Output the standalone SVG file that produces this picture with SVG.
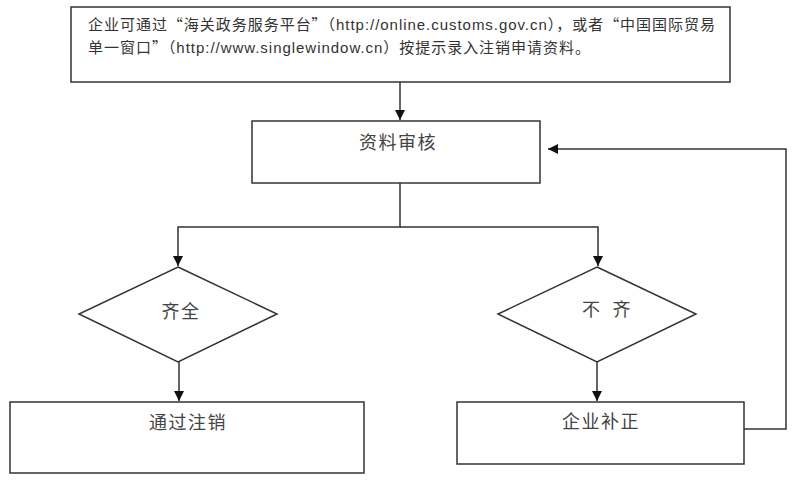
<svg xmlns="http://www.w3.org/2000/svg" width="798" height="487" viewBox="0 0 798 487">
<style>
.box{fill:#fff;stroke:#333;stroke-width:1.5}
.ln{fill:none;stroke:#333;stroke-width:1.5}
.t{font-family:"Liberation Sans","Noto Sans CJK SC",sans-serif;font-size:15px;fill:#333}
.q{font-family:"Noto Sans CJK SC",sans-serif}
.lb{font-family:"Noto Sans CJK SC",sans-serif;font-size:18px;fill:#444;text-anchor:middle;letter-spacing:1.5px}
</style>
<defs>
<marker id="ar" viewBox="0 0 10 10" refX="10" refY="5" markerWidth="10" markerHeight="10" markerUnits="userSpaceOnUse" orient="auto">
<path d="M0,0 L10,5 L0,10 z" fill="#111"/>
</marker>
</defs>
<rect width="798" height="487" fill="#fff"/>
<g id="connectors">
<path class="ln" d="M400,82 V120" marker-end="url(#ar)"/>
<path class="ln" d="M400,183 V227 H178 V266" marker-end="url(#ar)"/>
<path class="ln" d="M400,227 H598 V266" marker-end="url(#ar)"/>
<path class="ln" d="M179,362 V401" marker-end="url(#ar)"/>
<path class="ln" d="M597,362 V401" marker-end="url(#ar)"/>
<path class="ln" d="M744,429 H786 V149 H548" marker-end="url(#ar)"/>
</g>
<g id="start">
<rect class="box" x="71" y="7" width="659" height="75"/>
<text class="t" x="88" y="30" textLength="627" lengthAdjust="spacing">企业可通过<tspan class="q">“</tspan>海关政务服务平台<tspan class="q">”</tspan>（http://online.customs.gov.cn），或者<tspan class="q">“</tspan>中国国际贸易</text>
<text class="t" x="88" y="53" textLength="502" lengthAdjust="spacing">单一窗口<tspan class="q">”</tspan>（http://www.singlewindow.cn）按提示录入注销申请资料。</text>
</g>
<g id="review">
<rect class="box" x="252" y="121" width="288" height="62"/>
<text class="lb" x="398" y="149">资料审核</text>
</g>
<g id="complete">
<polygon class="box" points="178,267 277,314 178,362 79,314"/>
<text class="lb" x="181" y="318">齐全</text>
</g>
<g id="incomplete">
<polygon class="box" points="597,267 696,314 597,362 498,314"/>
<text class="lb" x="607" y="316" xml:space="preserve">不  齐</text>
</g>
<g id="approve">
<rect class="box" x="10" y="402" width="354" height="71"/>
<text class="lb" x="188" y="429">通过注销</text>
</g>
<g id="supplement">
<rect class="box" x="457" y="402" width="287" height="62"/>
<text class="lb" x="601" y="428">企业补正</text>
</g>
</svg>
